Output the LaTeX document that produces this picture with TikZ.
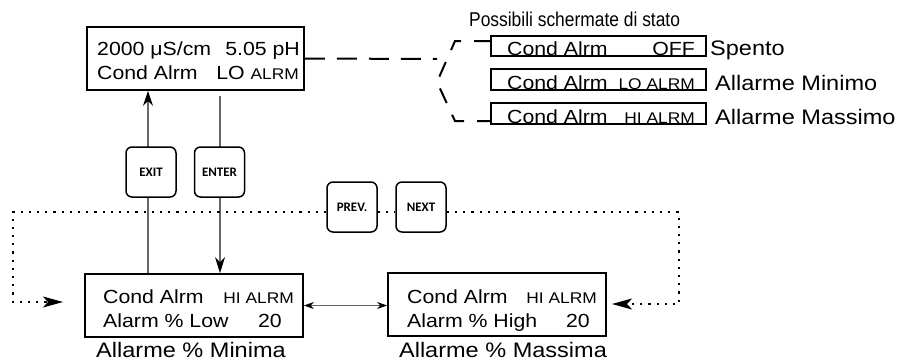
\documentclass[tikz,border=0pt]{standalone}
\usepackage{fontspec}
\setmainfont{Liberation Sans}[FakeStretch=1.12]
\newfontfamily\titlefamily{Liberation Sans}[FakeStretch=0.87]
\newfontfamily\btnfamily{Carlito}
\usetikzlibrary{arrows.meta}
\newcommand\bxf{\fontsize{19}{22}\selectfont}
\newcommand\smf{\fontsize{15.5}{18}\selectfont}
\newcommand\lbf{\fontsize{21}{24}\selectfont}
\newcommand\titlef{\titlefamily\fontsize{20}{23}\selectfont}
\newcommand\btnf{\btnfamily\bfseries\fontsize{13}{15}\selectfont}
\begin{document}
\begin{tikzpicture}[x=1pt,y=-1pt,
  box/.style={draw, line width=1.8pt, inner sep=0pt, fill=white},
  txt/.style={inner sep=0pt, font=\bxf},
  lbl/.style={inner sep=0pt, font=\lbf},
  btn/.style={draw, line width=1.5pt, rounded corners=6pt, minimum width=50pt,
    minimum height=50pt, inner sep=0pt, font=\btnf, fill=white},
  conn/.style={draw=black!60, line width=1.1pt},
  dotline/.style={line width=2.2pt, dash pattern=on 2.2pt off 6pt},
  dashline/.style={line width=2pt, dash pattern=on 20pt off 12pt},
  bigtip/.style={-{Stealth[length=20pt,width=11pt,inset=5pt,color=black]}}
]
\useasboundingbox (0,0) rectangle (898,364);

% top display
\node[box, minimum width=217pt, minimum height=63pt] (top) at (195.5,58.5) {};
\node[txt, anchor=base west] (t1a) at (97,55) {2000 μS/cm};
\node[txt, anchor=base east] (t1b) at (300,55) {5.05 pH};
\node[txt, anchor=base west] (t2a) at (97,79) {Cond Alrm};
\node[txt, anchor=base east] (t2b) at (299,79) {LO {\smf ALRM}};

% status screens
\node[lbl, font=\titlef, anchor=base west] (title) at (469,27) {Possibili schermate di stato};
\node[box, minimum width=215pt, minimum height=20pt] (soff) at (598.5,46) {};
\node[box, minimum width=215pt, minimum height=21pt] (slo) at (598.5,79.5) {};
\node[box, minimum width=215pt, minimum height=21pt] (shi) at (598.5,113.5) {};
\node[txt, anchor=base west] (s1a) at (507,55) {Cond Alrm};
\node[txt, anchor=base east] (s1b) at (695,55) {OFF};
\node[txt, anchor=base west] (s2a) at (507,89) {Cond Alrm};
\node[txt, font=\smf, anchor=base east] (s2b) at (695,89) {LO ALRM};
\node[txt, anchor=base west] (s3a) at (507,123) {Cond Alrm};
\node[txt, font=\smf, anchor=base east] (s3b) at (695,123) {HI ALRM};
\node[lbl, anchor=base west] (l1) at (710,55) {Spento};
\node[lbl, anchor=base west] (l2) at (715,90) {Allarme Minimo};
\node[lbl, anchor=base west] (l3) at (715,124) {Allarme Massimo};

% bottom displays
\node[box, minimum width=218pt, minimum height=63pt] (bl) at (194,305.5) {};
\node[box, minimum width=218pt, minimum height=63pt] (br) at (497,304.5) {};
\node[txt, anchor=base west] (b1a) at (103,303) {Cond Alrm};
\node[txt, font=\smf, anchor=base east] (b1b) at (294,303) {HI ALRM};
\node[txt, anchor=base west] (b1c) at (103,327) {Alarm \% Low};
\node[txt, anchor=base east] (b1d) at (282,327) {20};
\node[txt, anchor=base west] (b2a) at (407,303) {Cond Alrm};
\node[txt, font=\smf, anchor=base east] (b2b) at (597,303) {HI ALRM};
\node[txt, anchor=base west] (b2c) at (407,327) {Alarm \% High};
\node[txt, anchor=base east] (b2d) at (590,327) {20};
\node[lbl, anchor=base] (lb1) at (191,357) {Allarme \% Minima};
\node[lbl, anchor=base] (lb2) at (503,357) {Allarme \% Massima};

% vertical connectors
\coordinate (ex) at (148,0);
\coordinate (en) at (220,0);
\path (top.south -| en) ++(0,5) coordinate (enTop);
\draw[conn, -{Stealth[length=15pt,width=10pt,color=black]}] (ex |- bl.north) -- (ex |- top.south);
\draw[conn, -{Stealth[length=16pt,width=10pt,color=black]}] (enTop) -- (en |- bl.north);
\draw[conn, {Stealth[length=10pt,width=7pt,color=black]}-{Stealth[length=10pt,width=7pt,color=black]}]
  (bl.east) -- (bl.east -| br.west);

% dashed bracket
\coordinate (b0) at (437,59);
\coordinate (k1) at (455,41);
\coordinate (k2) at (437,82);
\coordinate (k3) at (455,121);
\draw[dashline] (top.east) -- (b0);
\draw[dashline, dash pattern=on 16pt off 13pt]
  ([yshift=5pt]soff.west) -- (k1) -- (k2) -- (k3) -- ([yshift=-7.5pt]shi.west);

% dotted loops
\coordinate (d1) at (13,212);
\coordinate (d2) at (13,302);
\coordinate (la) at (63,302);
\coordinate (d3) at (679,212);
\coordinate (d4) at (679,304);
\coordinate (ra) at (612,304);

% buttons
\node[btn] (exit) at (151,172) {EXIT};
\node[btn] (enter) at (219.5,172) {ENTER};
\node[btn] (prev) at (352,207) {PREV.};
\node[btn] (next) at (421,207) {NEXT};

\draw[dotline, bigtip] (prev.west |- d1) -- (d1) -- (d2) -- (la);
\draw[dotline] (prev.east |- d1) -- (next.west |- d1);
\draw[dotline, bigtip] (next.east |- d3) -- (d3) -- (d4) -- (ra);
\end{tikzpicture}
\end{document}
